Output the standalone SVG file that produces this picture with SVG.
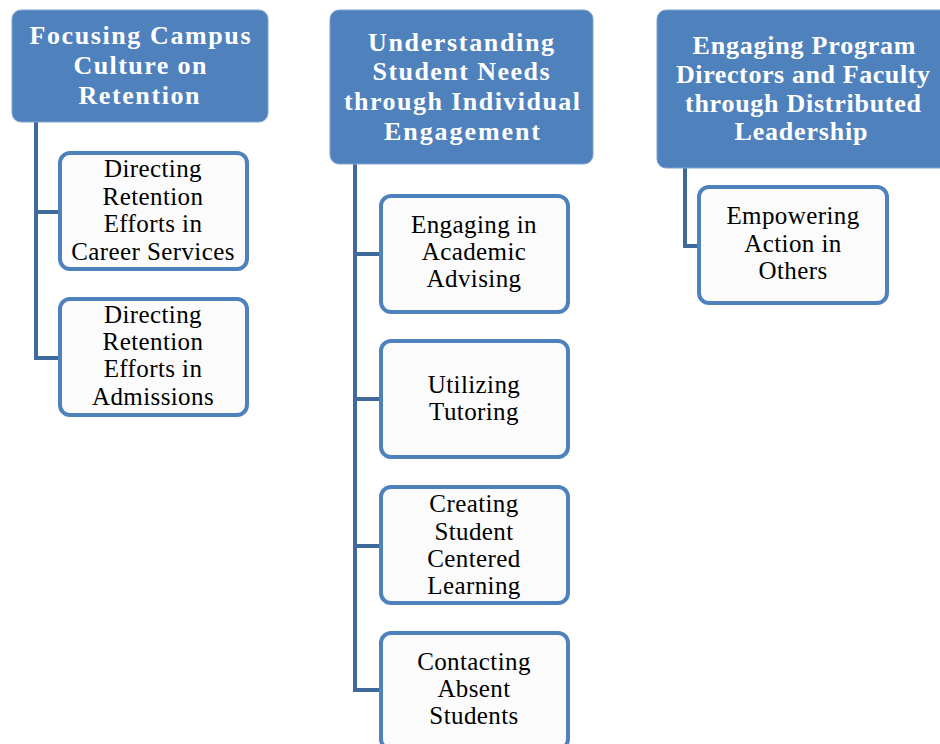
<svg xmlns="http://www.w3.org/2000/svg" width="940" height="744" viewBox="0 0 940 744">
<style>
.hdr{fill:#4f81bd;stroke:#7fa3d0;stroke-width:1}
.hdt{font-family:"Liberation Serif","Times New Roman",serif;font-weight:bold;font-size:26px;fill:#ffffff;text-anchor:middle}
.chl{fill:#fbfbfb;stroke:#4f81bd;stroke-width:4}
.cht{font-family:"Liberation Serif","Times New Roman",serif;font-size:25px;fill:#000000;text-anchor:middle;letter-spacing:0.4px}
.con{fill:none;stroke:#40699c;stroke-width:4}
</style>
<rect width="940" height="744" fill="#ffffff"/>
<g id="connectors">
<path class="con" d="M36 122 V358 H60 M36 212 H60"/>
<path class="con" d="M355 164 V690 H380 M355 254 H380 M355 399 H380 M355 546 H380"/>
<path class="con" d="M685 168 V246 H698"/>
</g>
<g id="h1">
<rect class="hdr" x="12" y="10" width="256" height="112" rx="9"/>
<text class="hdt" x="140" y="44" textLength="221" lengthAdjust="spacing">Focusing Campus</text>
<text class="hdt" x="140" y="74" textLength="133" lengthAdjust="spacing">Culture on</text>
<text class="hdt" x="139" y="104" textLength="121" lengthAdjust="spacing">Retention</text>
</g>
<g id="c1a">
<rect class="chl" x="60" y="153" width="187" height="116" rx="10"/>
<text class="cht" x="153" y="177">Directing</text>
<text class="cht" x="153" y="205">Retention</text>
<text class="cht" x="153" y="232">Efforts in</text>
<text class="cht" x="153" y="260">Career Services</text>
</g>
<g id="c1b">
<rect class="chl" x="60" y="299" width="187" height="116" rx="10"/>
<text class="cht" x="153" y="323">Directing</text>
<text class="cht" x="153" y="350">Retention</text>
<text class="cht" x="153" y="377">Efforts in</text>
<text class="cht" x="153" y="405">Admissions</text>
</g>
<g id="h2">
<rect class="hdr" x="330" y="10" width="263" height="154" rx="9"/>
<text class="hdt" x="461" y="51" textLength="186" lengthAdjust="spacing">Understanding</text>
<text class="hdt" x="461" y="80" textLength="177" lengthAdjust="spacing">Student Needs</text>
<text class="hdt" x="462" y="110" textLength="236" lengthAdjust="spacing">through Individual</text>
<text class="hdt" x="462" y="140" textLength="156" lengthAdjust="spacing">Engagement</text>
</g>
<g id="c2a">
<rect class="chl" x="381" y="196" width="187" height="116" rx="10"/>
<text class="cht" x="474" y="233">Engaging in</text>
<text class="cht" x="474" y="260">Academic</text>
<text class="cht" x="474" y="287">Advising</text>
</g>
<g id="c2b">
<rect class="chl" x="381" y="341" width="187" height="116" rx="10"/>
<text class="cht" x="474" y="393">Utilizing</text>
<text class="cht" x="474" y="420">Tutoring</text>
</g>
<g id="c2c">
<rect class="chl" x="381" y="487" width="187" height="116" rx="10"/>
<text class="cht" x="474" y="512">Creating</text>
<text class="cht" x="474" y="540">Student</text>
<text class="cht" x="474" y="567">Centered</text>
<text class="cht" x="474" y="594">Learning</text>
</g>
<g id="c2d">
<rect class="chl" x="381" y="633" width="187" height="116" rx="10"/>
<text class="cht" x="474" y="670">Contacting</text>
<text class="cht" x="474" y="697">Absent</text>
<text class="cht" x="474" y="724">Students</text>
</g>
<g id="h3">
<rect class="hdr" x="657" y="10" width="292" height="158" rx="9"/>
<text class="hdt" x="804" y="54" textLength="223" lengthAdjust="spacing">Engaging Program</text>
<text class="hdt" x="803" y="83" textLength="254" lengthAdjust="spacing">Directors and Faculty</text>
<text class="hdt" x="803" y="112" textLength="236" lengthAdjust="spacing">through Distributed</text>
<text class="hdt" x="801" y="140" textLength="133" lengthAdjust="spacing">Leadership</text>
</g>
<g id="c3">
<rect class="chl" x="699" y="187" width="188" height="116" rx="10"/>
<text class="cht" x="793" y="224">Empowering</text>
<text class="cht" x="793" y="252">Action in</text>
<text class="cht" x="793" y="279">Others</text>
</g>
</svg>
